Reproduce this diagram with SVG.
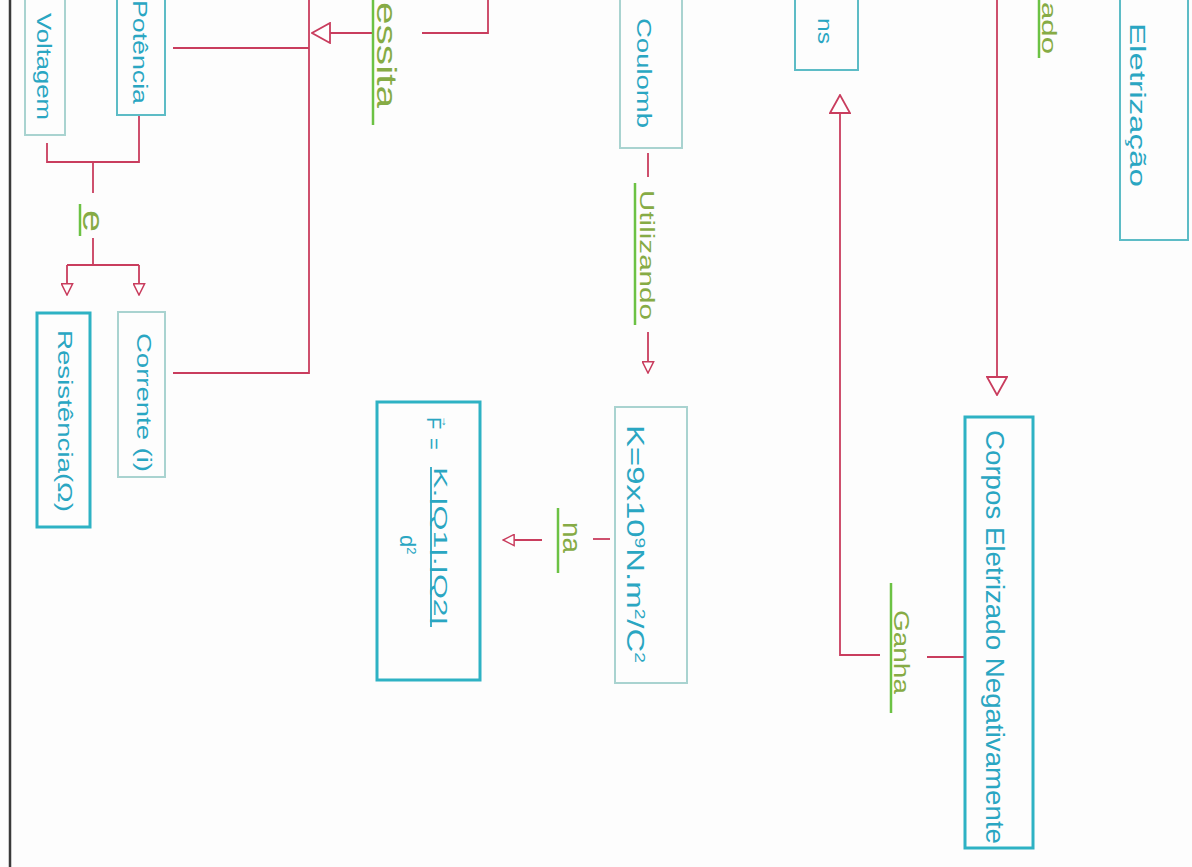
<svg xmlns="http://www.w3.org/2000/svg" width="1192" height="867" viewBox="0 0 1192 867">
<style>
.t{font-family:"Liberation Sans",Arial,sans-serif;fill:#2aa6c2;}
.lbl{font-family:"Liberation Sans",Arial,sans-serif;fill:#86ab45;}
.box{fill:none;stroke:#5dbcc6;stroke-width:2;}
.boxl{fill:none;stroke:#a9d3d0;stroke-width:2;}
.boxs{fill:none;stroke:#2eb2c4;stroke-width:3;}
.ln{fill:none;stroke:#c93d5e;stroke-width:1.8;}
.ul{stroke:#6cc244;stroke-width:2.5;}
</style>
<defs>
<marker id="big" viewBox="0 0 20 22" refX="19" refY="11" markerWidth="20" markerHeight="22" markerUnits="userSpaceOnUse" orient="auto">
<path d="M1,1 L19,11 L1,21 Z" fill="#fff" stroke="#c93d5e" stroke-width="1.8"/>
</marker>
<marker id="sm" viewBox="0 0 14 14" refX="13" refY="7" markerWidth="13" markerHeight="13" markerUnits="userSpaceOnUse" orient="auto">
<path d="M1,1 L13,7 L1,13 Z" fill="#fff" stroke="#c93d5e" stroke-width="1.6"/>
</marker>
</defs>
<rect width="1192" height="867" fill="#fdfdfd"/>
<line x1="10" y1="0" x2="10" y2="867" stroke="#3a3a3a" stroke-width="2.5"/>

<g id="connectors">
<polyline class="ln" points="173,48 309,48"/>
<polyline class="ln" points="309,0 309,374"/>
<polyline class="ln" points="173,373 309,373"/>
<polyline class="ln" points="488,0 488,33 422,33"/>
<line class="ln" x1="372" y1="33" x2="312" y2="33" marker-end="url(#big)"/>
<polyline class="ln" points="47,143 47,162 139,162 139,115"/>
<line class="ln" x1="93" y1="162" x2="93" y2="193"/>
<polyline class="ln" points="93,238 93,265"/>
<polyline class="ln" points="67,265 139,265"/>
<line class="ln" x1="67" y1="265" x2="67" y2="295" marker-end="url(#sm)"/>
<line class="ln" x1="139" y1="265" x2="139" y2="295" marker-end="url(#sm)"/>
<line class="ln" x1="648" y1="153" x2="648" y2="177"/>
<line class="ln" x1="648" y1="332" x2="648" y2="373" marker-end="url(#sm)"/>
<line class="ln" x1="593" y1="539" x2="610" y2="539"/>
<line class="ln" x1="542" y1="540" x2="503" y2="540" marker-end="url(#sm)"/>
<line class="ln" x1="997" y1="0" x2="997" y2="395" marker-end="url(#big)"/>
<line class="ln" x1="965" y1="657" x2="927" y2="657"/>
<polyline class="ln" points="880,655 840,655 840,200"/>
<line class="ln" x1="840" y1="200" x2="840" y2="95" marker-end="url(#big)"/>
<g id="lbl-necessita">
<line class="ul" x1="373" y1="0" x2="373" y2="125"/>
<text class="lbl" font-size="28" textLength="106" lengthAdjust="spacingAndGlyphs" transform="translate(377,2) rotate(90)">essita</text>
</g>
<g id="lbl-e">
<line class="ul" x1="80" y1="204" x2="80" y2="236"/>
<text class="lbl" font-size="30" textLength="22" lengthAdjust="spacingAndGlyphs" transform="translate(83,210) rotate(90)">e</text>
</g>
<g id="lbl-utilizando">
<line class="ul" x1="635" y1="183" x2="635" y2="325"/>
<text class="lbl" font-size="20" textLength="130" lengthAdjust="spacingAndGlyphs" transform="translate(640,190) rotate(90)">Utilizando</text>
</g>
<g id="lbl-na">
<line class="ul" x1="558" y1="508" x2="558" y2="573"/>
<text class="lbl" font-size="26" textLength="31" lengthAdjust="spacingAndGlyphs" transform="translate(563,522) rotate(90)">na</text>
</g>
<g id="lbl-ganha">
<line class="ul" x1="891" y1="583" x2="891" y2="713"/>
<text class="lbl" font-size="22" textLength="84" lengthAdjust="spacingAndGlyphs" transform="translate(894,610) rotate(90)">Ganha</text>
</g>
<g id="lbl-ado">
<line class="ul" x1="1039" y1="0" x2="1039" y2="58"/>
<text class="lbl" font-size="20" textLength="52" lengthAdjust="spacingAndGlyphs" transform="translate(1042,2) rotate(90)">ado</text>
</g>
</g>

<g id="n-voltagem">
<rect class="boxl" x="25" y="-5" width="40" height="140"/>
<text class="t" font-size="20" textLength="107" lengthAdjust="spacingAndGlyphs" transform="translate(37,13) rotate(90)">Voltagem</text>
</g>
<g id="n-potencia">
<rect class="box" x="117" y="-5" width="48" height="120"/>
<text class="t" font-size="20" textLength="104" lengthAdjust="spacingAndGlyphs" transform="translate(133,0) rotate(90)">Potência</text>
</g>
<g id="n-resistencia">
<rect class="boxs" x="37" y="313" width="53" height="214" stroke-width="2.5"/>
<text class="t" font-size="20" textLength="182" lengthAdjust="spacingAndGlyphs" transform="translate(58,330) rotate(90)">Resistência(Ω)</text>
</g>
<g id="n-corrente">
<rect class="boxl" x="118" y="312" width="47" height="165"/>
<text class="t" font-size="20" textLength="139" lengthAdjust="spacingAndGlyphs" transform="translate(137,333) rotate(90)">Corrente (i)</text>
</g>
<g id="n-coulomb">
<rect class="boxl" x="620" y="-5" width="62" height="153"/>
<text class="t" font-size="21" textLength="110" lengthAdjust="spacingAndGlyphs" transform="translate(637,18) rotate(90)">Coulomb</text>
</g>
<g id="n-k">
<rect class="boxl" x="615" y="407" width="72" height="276"/>
<text class="t" font-size="24" textLength="238" lengthAdjust="spacingAndGlyphs" transform="translate(627,425) rotate(90)">K=9x10<tspan font-size="14" baseline-shift="super">9</tspan>N.m<tspan font-size="14" baseline-shift="super">2</tspan>/C<tspan font-size="14" baseline-shift="super">2</tspan></text>
</g>
<g id="n-formula">
<rect class="boxs" x="377" y="402" width="103" height="278" stroke-width="4"/>
<g transform="rotate(90)">
<text class="t" font-size="20" x="417" y="-427">F</text>
<text class="t" font-size="12" x="416" y="-442">→</text>
<text class="t" font-size="20" x="438" y="-427">=</text>
<text class="t" font-size="18" x="467" y="-434" textLength="158" lengthAdjust="spacingAndGlyphs">K.|Q1|.|Q2|</text>
<line x1="467" y1="-431" x2="627" y2="-431" stroke="#2aa6c2" stroke-width="1.8"/>
<text class="t" font-size="22" x="535" y="-400">d<tspan font-size="13" baseline-shift="super">2</tspan></text>
</g>
</g>
<g id="n-eletrons">
<rect class="box" x="795" y="-5" width="63" height="75" stroke="#4a9fab"/>
<text class="t" font-size="20" textLength="26" lengthAdjust="spacingAndGlyphs" transform="translate(818,18) rotate(90)">ns</text>
</g>
<g id="n-eletrizacao">
<rect class="box" x="1120" y="-5" width="68" height="245" stroke="#3fb4be"/>
<text class="t" font-size="22" textLength="164" lengthAdjust="spacingAndGlyphs" transform="translate(1130,23) rotate(90)">Eletrização</text>
</g>
<g id="n-corpos">
<rect class="boxs" x="965" y="417" width="68" height="431" stroke-width="2.5"/>
<text class="t" font-size="26" textLength="414" lengthAdjust="spacingAndGlyphs" transform="translate(986,430) rotate(90)">Corpos Eletrizado Negativamente</text>
</g>
</svg>
